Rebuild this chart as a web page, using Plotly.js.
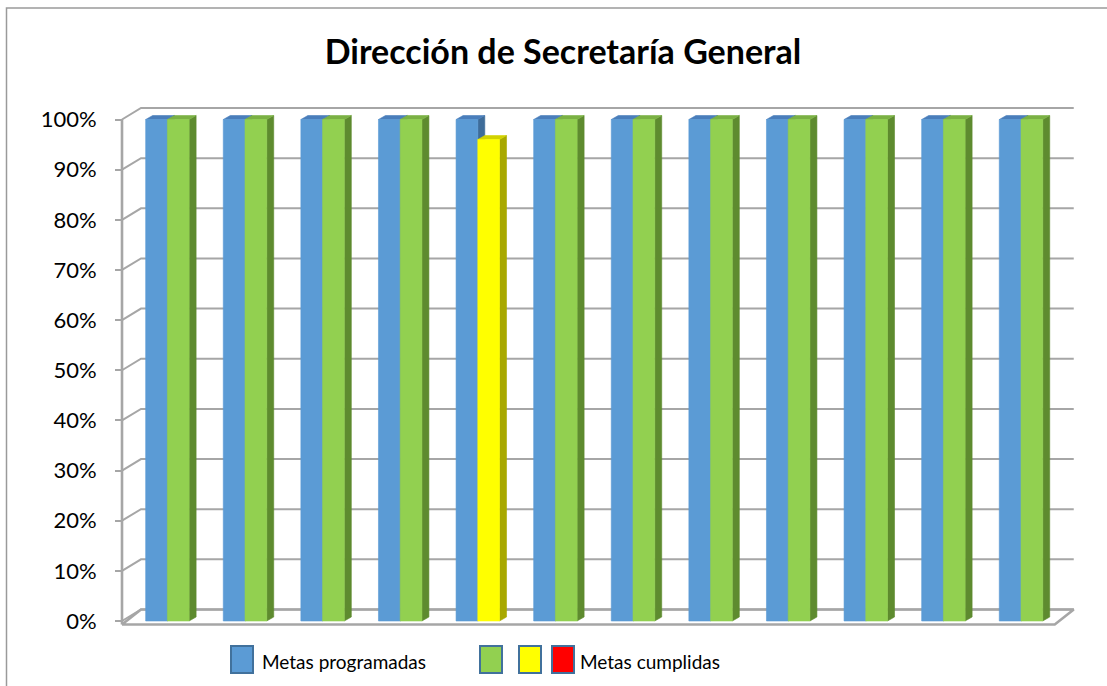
<!DOCTYPE html>
<html>
<head>
<meta charset="utf-8">
<script src="https://cdn.plot.ly/plotly-3.0.1.min.js"></script>
<style>
html,body{margin:0;padding:0;background:#ffffff;}
#chart{width:1107px;height:686px;}
</style>
</head>
<body>
<div id="chart"></div>
<script>
// ---------------- DATA ----------------
const categories = ['Meta 1','Meta 2','Meta 3','Meta 4','Meta 5','Meta 6',
                    'Meta 7','Meta 8','Meta 9','Meta 10','Meta 11','Meta 12'];
const metasProgramadas = [100,100,100,100,100,100,100,100,100,100,100,100];
const metasCumplidas   = [100,100,100,100, 96,100,100,100,100,100,100,100];
const yTickValues = [0,10,20,30,40,50,60,70,80,90,100];
const yTickLabels = ['0%','10%','20%','30%','40%','50%','60%','70%','80%','90%','100%'];
const seriesNames = ['Metas programadas','Metas cumplidas'];
const chartTitle = 'Dirección de Secretaría General';

// ---------------- GEOMETRY / STYLE ----------------
const W = 1107, H = 686;
const M = {l:100, r:27, t:95, b:46};
const plotW = W - M.l - M.r, plotH = H - M.t - M.b;
const UNIT = 77.6;          // px per category
const AXIS_PX = 22;         // front axis offset inside plot area (px)
const PX = 5.015;           // px per percent
const ZERO = 621;           // px (from top) of 0%
const xMin = -0.5 - AXIS_PX/UNIT;
const xMax = xMin + plotW/UNIT;
const yMin = (ZERO - (H - M.b))/PX;
const yMax = (ZERO - M.t)/PX;

const BAR_W = 0.28;
const OFF_PROG = -0.195;
const OFF_CUMP = 0.085;
const DX = 7/UNIT, DY = 4/PX;          // bar depth
const BDX = 19/UNIT, BDY = 11.5/PX;    // back wall offset
const FLOOR_FRONT = -0.7;
const X_LEFT = -0.5, X_RIGHT = 11.52;

const GRID = '#a6a6a6';
const COL = {
  blue:   {front:'#5B9BD5', top:'#4A7EBB', side:'#3E6C99'},
  green:  {front:'#92D050', top:'#7BB144', side:'#5E8B2F'},
  yellow: {front:'#FFFF00', top:'#D2D200', side:'#A8A800'},
  red:    {front:'#FF0000', top:'#CC0000', side:'#A00000'}
};
const FONT = 'Lato, "Open Sans", "Liberation Sans", sans-serif';

function cumpColor(v){ return v >= 100 ? 'green' : (v > 0 ? 'yellow' : 'red'); }

function faces(i, off, v){
  const a = i + off, b = a + BAR_W;
  return {
    front: [[a,b,b,a,a],[0,0,v,v,0]],
    top:   [[a,b,b+DX,a+DX,a],[v,v,v+DY,v+DY,v]],
    side:  [[b,b+DX,b+DX,b,b],[0,DY,v+DY,v,0]]
  };
}
function polyTrace(list, face, color){
  const xs=[], ys=[];
  list.forEach(f=>{ xs.push(...f[face][0], null); ys.push(...f[face][1], null); });
  return {type:'scatter', mode:'lines', x:xs, y:ys, fill:'toself', fillcolor:color,
          line:{color:color, width:0.6}, hoverinfo:'skip', showlegend:false};
}

const traces = [];

// floor
traces.push({type:'scatter', mode:'lines',
  x:[X_LEFT, X_RIGHT, X_RIGHT+BDX, X_LEFT+BDX, X_LEFT],
  y:[FLOOR_FRONT, FLOOR_FRONT, BDY, BDY, FLOOR_FRONT],
  fill:'toself', fillcolor:'#ffffff', line:{color:GRID, width:2.6},
  hoverinfo:'skip', showlegend:false});

// back wall gridlines + side wall diagonals
{
  const gx=[], gy=[];
  yTickValues.forEach(v=>{
    gx.push(X_LEFT, X_LEFT+BDX, X_RIGHT+BDX, null);
    gy.push(v, v+BDY, v+BDY, null);
  });
  traces.push({type:'scatter', mode:'lines', x:gx, y:gy,
    line:{color:GRID, width:2}, hoverinfo:'skip', showlegend:false});
  traces.push({type:'scatter', mode:'lines', x:[X_LEFT, X_LEFT], y:[FLOOR_FRONT, yTickValues[yTickValues.length-1]],
    line:{color:GRID, width:2.6}, hoverinfo:'skip', showlegend:false});
}

// programadas bars
const progFaces = metasProgramadas.map((v,i)=>faces(i, OFF_PROG, v));
traces.push(polyTrace(progFaces,'side',COL.blue.side));
traces.push(polyTrace(progFaces,'top',COL.blue.top));
traces.push(polyTrace(progFaces,'front',COL.blue.front));

// cumplidas bars (colour by level)
['green','yellow','red'].forEach(c=>{
  const list = metasCumplidas.map((v,i)=>({v,i})).filter(o=>cumpColor(o.v)===c)
                .map(o=>faces(o.i, OFF_CUMP, o.v));
  if(!list.length) return;
  traces.push(polyTrace(list,'side',COL[c].side));
  traces.push(polyTrace(list,'top',COL[c].top));
  traces.push(polyTrace(list,'front',COL[c].front));
});

// hover carrier (invisible) using categories
traces.push({type:'scatter', mode:'markers', x:categories.map((c,i)=>i), y:metasCumplidas,
  text:categories, marker:{opacity:0}, hovertemplate:'%{text}: %{y}%<extra></extra>', showlegend:false});

// ---------------- LEGEND (custom) ----------------
const px2x = p => (p - M.l)/plotW;
const px2y = p => (H - M.b - p)/plotH;
const shapes = [];
shapes.push({type:'rect', xref:'paper', yref:'paper',
  x0:px2x(6.5), y0:px2y(8), x1:px2x(1400), y1:px2y(1000),
  line:{color:'#9a9a9a', width:1.5}, fillcolor:'rgba(0,0,0,0)', layer:'below'});
const legendBoxes = [
  {x:231, color:COL.blue.front},
  {x:480, color:COL.green.front},
  {x:519, color:COL.yellow.front},
  {x:552, color:COL.red.front}
];
legendBoxes.forEach(b=>{
  shapes.push({type:'rect', xref:'paper', yref:'paper',
    x0:px2x(b.x), x1:px2x(b.x+22), y0:px2y(646), y1:px2y(673),
    fillcolor:b.color, line:{color:'#41719C', width:2}});
});
const annotations = [
  {text:seriesNames[0], x:px2x(260), y:px2y(661)},
  {text:seriesNames[1], x:px2x(578), y:px2y(661)}
].map(a=>Object.assign({xref:'paper', yref:'paper', xanchor:'left', yanchor:'middle',
   showarrow:false, font:{family:FONT, size:19, color:'#000'}}, a));

const layout = {
  width:W, height:H, margin:M,
  paper_bgcolor:'#ffffff', plot_bgcolor:'rgba(0,0,0,0)',
  title:{text:chartTitle, font:{family:FONT, size:34, color:'#000', weight:700},
         xref:'container', yref:'container', x:563/W, xanchor:'center', y:1-52/H, yanchor:'middle'},
  xaxis:{range:[xMin,xMax], showgrid:false, zeroline:false, showticklabels:false, showline:false, ticks:'', fixedrange:true},
  yaxis:{range:[yMin,yMax], anchor:'free', position:AXIS_PX/plotW, showgrid:false, zeroline:false, showline:false,
         tickvals:yTickValues, ticktext:yTickLabels, ticks:'outside', ticklen:7, tickwidth:2, tickcolor:GRID,
         ticklabelstandoff:14, tickfont:{family:FONT, size:22, color:'#000'}, fixedrange:true},
  shapes:shapes, annotations:annotations, showlegend:false
};

Plotly.newPlot('chart', traces, layout, {displayModeBar:false, staticPlot:true});
</script>
</body>
</html>
